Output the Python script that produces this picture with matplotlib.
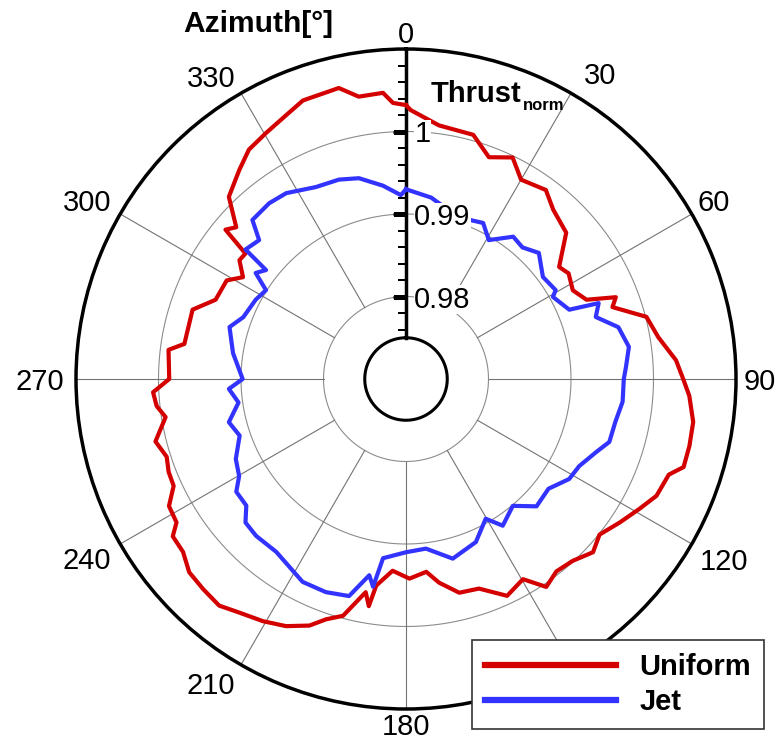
import numpy as np
import matplotlib.pyplot as plt

plt.rcParams['font.family'] = ['Liberation Sans', 'DejaVu Sans']

# normalised thrust vs. azimuth, uniform inflow
uniform_deg = [0, 1, 7.4, 15.4, 20.5, 25.7, 30, 36.5, 41, 47.6, 53.8, 57, 62, 66.3,
               68.7, 70.8, 75.5, 80.6, 86, 90, 93.4, 98.5, 103.3, 107.6, 110, 115,
               119, 123.9, 128.8, 132.8, 137.5, 142, 146, 149.7, 155, 160.8, 166,
               170.8, 174, 179, 184, 188.2, 189.3, 190.7, 194.9, 198.4, 201.4, 205.9,
               210.6, 215.6, 219.5, 224, 228.3, 232.2, 236, 238, 241.8, 245.3, 248.6,
               252, 256, 261, 263.8, 267, 270, 277, 279, 288, 292.6, 298.8, 302,
               305.5, 308, 309.6, 311.8, 315.8, 321.4, 325.6, 330.3, 334.9, 339.7,
               347, 350.5, 355.4, 357.3]
uniform_thrust = [1.0032, 1.0026, 1.0010, 1.0007, 0.9987, 0.9998, 0.9979, 0.9985, 0.9972,
                  0.9963, 0.9930, 0.9935, 0.9929, 0.9939, 0.9973, 0.9965, 1.0001, 1.0010,
                  1.0028, 1.0036, 1.0044, 1.0052, 1.0053, 1.0053, 1.0039, 1.0035, 1.0024,
                  1.0012, 1.0001, 1.0009, 0.9999, 0.9996, 1.0004, 0.9981, 0.9990, 0.9969,
                  0.9967, 0.9950, 0.9935, 0.9942, 0.9933, 0.9953, 0.9979, 0.9963, 0.9997,
                  1.0007, 1.0021, 1.0033, 1.0041, 1.0048, 1.0056, 1.0054, 1.0052, 1.0042,
                  1.0041, 1.0028, 1.0026, 1.0010, 1.0009, 1.0005, 1.0013, 0.9995, 1.0004,
                  1.0007, 0.9987, 0.9990, 0.9972, 0.9972, 0.9950, 0.9948, 0.9933, 0.9948,
                  0.9947, 0.9984, 0.9976, 1.0008, 1.0024, 1.0037, 1.0043, 1.0050, 1.0060,
                  1.0062, 1.0047, 1.0048, 1.0035]

# normalised thrust vs. azimuth, jet inflow
jet_deg = [0, 7.9, 18, 26.3, 30.8, 37, 41.5, 46.5, 53.3, 59.3, 60.8, 67, 68.5, 71.9,
           76.3, 81.8, 86.9, 90, 96, 101.6, 107.2, 111, 116.7, 121.5, 127.6, 134.3,
           139.9, 146.6, 150.3, 156.8, 165.4, 173.3, 180, 187.3, 189, 190.6, 194.7,
           200.6, 207, 216.9, 223.7, 228.2, 231.6, 236.4, 239.8, 244.8, 251.2, 256.3,
           262, 266.8, 270, 278.5, 286.4, 290.8, 297.8, 302.4, 305.2, 307.9, 308.9,
           313.4, 316, 322.1, 327.2, 334.9, 341.4, 346.8, 353.2, 358.4]
jet_thrust = [0.9930, 0.9922, 0.9906, 0.9911, 0.9896, 0.9916, 0.9913, 0.9922, 0.9907,
              0.9911, 0.9904, 0.9915, 0.9951, 0.9942, 0.9965, 0.9973, 0.9967, 0.9964,
              0.9964, 0.9959, 0.9958, 0.9947, 0.9935, 0.9932, 0.9918, 0.9921, 0.9901,
              0.9913, 0.9895, 0.9915, 0.9925, 0.9907, 0.9910, 0.9919, 0.9955, 0.9942,
              0.9972, 0.9976, 0.9976, 0.9962, 0.9963, 0.9961, 0.9947, 0.9947, 0.9934,
              0.9928, 0.9913, 0.9921, 0.9905, 0.9915, 0.9898, 0.9912, 0.9923, 0.9911,
              0.9906, 0.9901, 0.9923, 0.9915, 0.9950, 0.9945, 0.9968, 0.9970, 0.9968,
              0.9957, 0.9955, 0.9950, 0.9936, 0.9923]

ring_values = [0.98, 0.99, 1.0]
ring_labels = ['0.98', '0.99', '1']
azimuth_deg = list(range(0, 360, 30))
azimuth_labels = ['0', '30', '60', '90', '120', '150', '180', '210', '240', '270', '300', '330']
# label centre offset from the rim tick, in pixels (x right, y down)
azimuth_offsets = [(0, -17), (29, -20), (22, -14), (24, 0), (32, 15), (30, 19),
                   (0, 15), (-30, 18), (-33, 14), (-36, 0), (-33, -14), (-30, -17)]

r_min, r_max, r_hub = 0.97, 1.01, 0.975

fig = plt.figure(figsize=(7.84, 7.40), dpi=100)
ax = fig.add_axes([76 / 784, 31 / 740, 660 / 784, 660 / 740], projection='polar')
ax.set_theta_zero_location('N')
ax.set_theta_direction(-1)
ax.set_ylim(r_min, r_max)
ax.grid(False)
ax.set_yticks([])

# azimuth ticks on the outer rim
ax.set_xticks(np.radians(azimuth_deg))
ax.set_xticklabels([])
ax.set_xticks(np.radians(np.arange(0, 360, 10)), minor=True)
ax.tick_params(axis='x', which='major', direction='in', length=12, width=2)
ax.tick_params(axis='x', which='minor', direction='in', length=6, width=1, color='0.35')
ax.spines['polar'].set_linewidth(2.5)
for a, lab, (dx, dy) in zip(azimuth_deg, azimuth_labels, azimuth_offsets):
    ax.annotate(lab, xy=(np.radians(a), r_max), xytext=(dx * 0.72, -dy * 0.72),
                textcoords='offset points', ha='center', va='center_baseline',
                fontsize=21, annotation_clip=False)

# thin grid: rings and spokes
full = np.linspace(0, 2 * np.pi, 721)
for v in ring_values:
    ax.plot(full, np.full_like(full, v), color='0.55', lw=0.8, zorder=1)
for a in azimuth_deg[1:]:
    ax.plot([np.radians(a)] * 2, [ring_values[0], r_max], color='0.45', lw=0.8, zorder=1)

# hub circle and radial axis
ax.plot(full, np.full_like(full, r_hub), color='k', lw=2.2, zorder=3)
ax.plot([0, 0], [r_hub, r_max], color='k', lw=2.5, zorder=3)
minor_r = [v for v in np.arange(0.976, 1.0101, 0.002) if min(abs(v - m) for m in ring_values) > 1e-4]
ax.plot(np.zeros(len(minor_r)), minor_r, ls='none', marker=0, ms=5.5, mew=1.2, color='k', zorder=3)
ax.plot(np.zeros(3), ring_values, ls='none', marker=0, ms=9.5, mew=2.2, color='k', zorder=3)

# data
th_u = np.radians(np.append(uniform_deg, uniform_deg[0] + 360))
th_j = np.radians(np.append(jet_deg, jet_deg[0] + 360))
line_u, = ax.plot(th_u, np.append(uniform_thrust, uniform_thrust[0]), color='#d40000', lw=3.0,
                  label='Uniform', zorder=4)
line_j, = ax.plot(th_j, np.append(jet_thrust, jet_thrust[0]), color='#3333ff', lw=3.0,
                  label='Jet', zorder=4)

for v, lab in zip(ring_values, ring_labels):
    ax.annotate(lab, xy=(0, v), xytext=(6, 0), textcoords='offset points', ha='left',
                va='center_baseline', fontsize=21,
                bbox=dict(fc='white', ec='none', pad=0.2), zorder=5)

fig.text(183 / 784, 1 - 32 / 740, 'Azimuth[°]', fontsize=21.5, fontweight='bold', va='baseline')
fig.text(431 / 784, 1 - 102 / 740, 'Thrust', fontsize=21, fontweight='bold', va='baseline')
fig.text(523 / 784, 1 - 110 / 740, 'norm', fontsize=12, fontweight='bold', va='baseline')

leg = ax.legend(handles=[line_u, line_j], loc='upper left',
                bbox_to_anchor=(472 / 784, 1 - 640 / 740), bbox_transform=fig.transFigure,
                borderaxespad=0, fancybox=False, framealpha=1, edgecolor='0.2',
                prop={'size': 21, 'weight': 'bold'}, handlelength=4.5, handletextpad=0.8,
                borderpad=0.45, labelspacing=0.24)
leg.get_frame().set_linewidth(1.2)
for h in leg.get_lines():
    h.set_linewidth(4.5)
leg.set_zorder(10)

fig.savefig('out.png', dpi=100)
